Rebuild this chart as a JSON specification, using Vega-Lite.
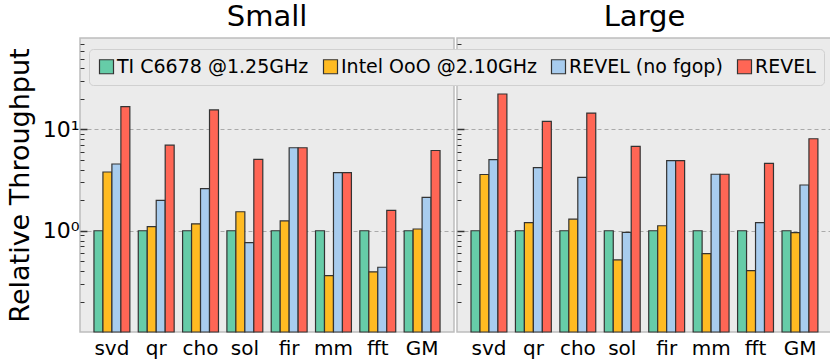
{
  "$schema": "https://vega.github.io/schema/vega-lite/v6.json",
  "padding": {"left": 5, "top": 2, "right": 0, "bottom": 0},
  "spacing": 0,
  "datasets": {
    "d": [
      {"size": "Small", "bench": "svd", "s": "TI C6678 @1.25GHz", "v": 1},
      {"size": "Small", "bench": "svd", "s": "Intel OoO @2.10GHz", "v": 3.8},
      {"size": "Small", "bench": "svd", "s": "REVEL (no fgop)", "v": 4.56},
      {"size": "Small", "bench": "svd", "s": "REVEL", "v": 16.8},
      {"size": "Small", "bench": "qr", "s": "TI C6678 @1.25GHz", "v": 1},
      {"size": "Small", "bench": "qr", "s": "Intel OoO @2.10GHz", "v": 1.10},
      {"size": "Small", "bench": "qr", "s": "REVEL (no fgop)", "v": 1.99},
      {"size": "Small", "bench": "qr", "s": "REVEL", "v": 7.0},
      {"size": "Small", "bench": "cho", "s": "TI C6678 @1.25GHz", "v": 1},
      {"size": "Small", "bench": "cho", "s": "Intel OoO @2.10GHz", "v": 1.17},
      {"size": "Small", "bench": "cho", "s": "REVEL (no fgop)", "v": 2.61},
      {"size": "Small", "bench": "cho", "s": "REVEL", "v": 15.6},
      {"size": "Small", "bench": "sol", "s": "TI C6678 @1.25GHz", "v": 1},
      {"size": "Small", "bench": "sol", "s": "Intel OoO @2.10GHz", "v": 1.54},
      {"size": "Small", "bench": "sol", "s": "REVEL (no fgop)", "v": 0.762},
      {"size": "Small", "bench": "sol", "s": "REVEL", "v": 5.07},
      {"size": "Small", "bench": "fir", "s": "TI C6678 @1.25GHz", "v": 1},
      {"size": "Small", "bench": "fir", "s": "Intel OoO @2.10GHz", "v": 1.25},
      {"size": "Small", "bench": "fir", "s": "REVEL (no fgop)", "v": 6.6},
      {"size": "Small", "bench": "fir", "s": "REVEL", "v": 6.6},
      {"size": "Small", "bench": "mm", "s": "TI C6678 @1.25GHz", "v": 1},
      {"size": "Small", "bench": "mm", "s": "Intel OoO @2.10GHz", "v": 0.361},
      {"size": "Small", "bench": "mm", "s": "REVEL (no fgop)", "v": 3.75},
      {"size": "Small", "bench": "mm", "s": "REVEL", "v": 3.75},
      {"size": "Small", "bench": "fft", "s": "TI C6678 @1.25GHz", "v": 1},
      {"size": "Small", "bench": "fft", "s": "Intel OoO @2.10GHz", "v": 0.393},
      {"size": "Small", "bench": "fft", "s": "REVEL (no fgop)", "v": 0.436},
      {"size": "Small", "bench": "fft", "s": "REVEL", "v": 1.59},
      {"size": "Small", "bench": "GM", "s": "TI C6678 @1.25GHz", "v": 1},
      {"size": "Small", "bench": "GM", "s": "Intel OoO @2.10GHz", "v": 1.04},
      {"size": "Small", "bench": "GM", "s": "REVEL (no fgop)", "v": 2.13},
      {"size": "Small", "bench": "GM", "s": "REVEL", "v": 6.2},
      {"size": "Large", "bench": "svd", "s": "TI C6678 @1.25GHz", "v": 1},
      {"size": "Large", "bench": "svd", "s": "Intel OoO @2.10GHz", "v": 3.59},
      {"size": "Large", "bench": "svd", "s": "REVEL (no fgop)", "v": 5.04},
      {"size": "Large", "bench": "svd", "s": "REVEL", "v": 22.4},
      {"size": "Large", "bench": "qr", "s": "TI C6678 @1.25GHz", "v": 1},
      {"size": "Large", "bench": "qr", "s": "Intel OoO @2.10GHz", "v": 1.20},
      {"size": "Large", "bench": "qr", "s": "REVEL (no fgop)", "v": 4.2},
      {"size": "Large", "bench": "qr", "s": "REVEL", "v": 12.0},
      {"size": "Large", "bench": "cho", "s": "TI C6678 @1.25GHz", "v": 1},
      {"size": "Large", "bench": "cho", "s": "Intel OoO @2.10GHz", "v": 1.30},
      {"size": "Large", "bench": "cho", "s": "REVEL (no fgop)", "v": 3.37},
      {"size": "Large", "bench": "cho", "s": "REVEL", "v": 14.5},
      {"size": "Large", "bench": "sol", "s": "TI C6678 @1.25GHz", "v": 1},
      {"size": "Large", "bench": "sol", "s": "Intel OoO @2.10GHz", "v": 0.515},
      {"size": "Large", "bench": "sol", "s": "REVEL (no fgop)", "v": 0.964},
      {"size": "Large", "bench": "sol", "s": "REVEL", "v": 6.8},
      {"size": "Large", "bench": "fir", "s": "TI C6678 @1.25GHz", "v": 1},
      {"size": "Large", "bench": "fir", "s": "Intel OoO @2.10GHz", "v": 1.12},
      {"size": "Large", "bench": "fir", "s": "REVEL (no fgop)", "v": 4.92},
      {"size": "Large", "bench": "fir", "s": "REVEL", "v": 4.92},
      {"size": "Large", "bench": "mm", "s": "TI C6678 @1.25GHz", "v": 1},
      {"size": "Large", "bench": "mm", "s": "Intel OoO @2.10GHz", "v": 0.594},
      {"size": "Large", "bench": "mm", "s": "REVEL (no fgop)", "v": 3.61},
      {"size": "Large", "bench": "mm", "s": "REVEL", "v": 3.61},
      {"size": "Large", "bench": "fft", "s": "TI C6678 @1.25GHz", "v": 1},
      {"size": "Large", "bench": "fft", "s": "Intel OoO @2.10GHz", "v": 0.404},
      {"size": "Large", "bench": "fft", "s": "REVEL (no fgop)", "v": 1.2},
      {"size": "Large", "bench": "fft", "s": "REVEL", "v": 4.63},
      {"size": "Large", "bench": "GM", "s": "TI C6678 @1.25GHz", "v": 1},
      {"size": "Large", "bench": "GM", "s": "Intel OoO @2.10GHz", "v": 0.956},
      {"size": "Large", "bench": "GM", "s": "REVEL (no fgop)", "v": 2.83},
      {"size": "Large", "bench": "GM", "s": "REVEL", "v": 8.1}
    ]
  },
  "config": {
    "font": "DejaVu Sans",
    "background": "white",
    "view": {"fill": "#EBEBEB", "stroke": "#BDBDBD", "strokeWidth": 1.5},
    "title": {"font": "DejaVu Sans", "fontSize": 29, "fontWeight": "normal", "color": "black", "offset": 6},
    "axis": {"labelFont": "DejaVu Sans", "titleFont": "DejaVu Sans", "labelColor": "black", "titleColor": "black", "titleFontWeight": "normal"}
  },
  "hconcat": [
    {
      "title": {"text": "Small"},
      "width": 374,
      "height": 294,
      "data": {"name": "d"},
      "transform": [{"filter": "datum.size == 'Small'"}],
      "mark": {"type": "bar", "stroke": "#333333", "strokeWidth": 1.2},
      "encoding": {
        "x": {"field": "bench", "type": "nominal", "sort": ["svd", "qr", "cho", "sol", "fir", "mm", "fft", "GM"],
              "scale": {"paddingInner": 0.19, "paddingOuter": 0.315},
              "axis": {"title": null, "labelAngle": 0, "labelFontSize": 20, "ticks": false, "domain": false, "labelPadding": 6}},
        "xOffset": {"field": "s", "type": "nominal", "sort": ["TI C6678 @1.25GHz", "Intel OoO @2.10GHz", "REVEL (no fgop)", "REVEL"], "scale": {"paddingInner": 0, "paddingOuter": 0}},
        "y": {"field": "v", "type": "quantitative",
              "scale": {"type": "log", "domain": [0.1, 80], "nice": false},
              "axis": {"title": "Relative Throughput", "titleFontSize": 27, "titlePadding": 8,
                       "values": [0.2, 0.3, 0.4, 0.5, 0.6, 0.7, 0.8, 0.9, 1, 2, 3, 4, 5, 6, 7, 8, 9, 10, 20, 30, 40, 50, 60, 70],
                       "labelExpr": "datum.value == 1 ? '10⁰' : datum.value == 10 ? '10¹' : ''",
                       "labelFontSize": 22, "labelPadding": 8, "domain": false,
                       "tickColor": "#333333",
                       "tickSize": {"condition": {"test": "datum.value == 1 || datum.value == 10", "value": -7}, "value": -4},
                       "tickWidth": {"condition": {"test": "datum.value == 1 || datum.value == 10", "value": 1.5}, "value": 1},
                       "grid": true, "gridColor": "#AAAAAA", "gridDash": [4, 3], "gridWidth": 1,
                       "gridOpacity": {"condition": {"test": "datum.value == 1 || datum.value == 10", "value": 1}, "value": 0}}},
        "y2": {"datum": 0.1},
        "color": {"field": "s", "type": "nominal", "sort": ["TI C6678 @1.25GHz", "Intel OoO @2.10GHz", "REVEL (no fgop)", "REVEL"],
                  "scale": {"domain": ["TI C6678 @1.25GHz", "Intel OoO @2.10GHz", "REVEL (no fgop)", "REVEL"], "range": ["#66CCA8", "#FFBB22", "#A8CCEE", "#FF6655"]},
                  "legend": {"title": null, "orient": "none", "direction": "horizontal", "legendX": 9, "legendY": 11,
                             "symbolType": "square", "symbolSize": 196, "symbolStrokeColor": "#333333", "symbolStrokeWidth": 1.2,
                             "labelFontSize": 19, "labelLimit": 400, "labelOffset": 1, "columnPadding": 12, "labelColor": "black", "labelFont": "DejaVu Sans",
                             "fillColor": "#EBEBEB", "strokeColor": "#D0D0D0", "cornerRadius": 4, "padding": 8}}
      }
    },
    {
      "title": {"text": "Large"},
      "width": 375,
      "height": 294,
      "data": {"name": "d"},
      "transform": [{"filter": "datum.size == 'Large'"}],
      "mark": {"type": "bar", "stroke": "#333333", "strokeWidth": 1.2},
      "encoding": {
        "x": {"field": "bench", "type": "nominal", "sort": ["svd", "qr", "cho", "sol", "fir", "mm", "fft", "GM"],
              "scale": {"paddingInner": 0.19, "paddingOuter": 0.315},
              "axis": {"title": null, "labelAngle": 0, "labelFontSize": 20, "ticks": false, "domain": false, "labelPadding": 6}},
        "xOffset": {"field": "s", "type": "nominal", "sort": ["TI C6678 @1.25GHz", "Intel OoO @2.10GHz", "REVEL (no fgop)", "REVEL"], "scale": {"paddingInner": 0, "paddingOuter": 0}},
        "y": {"field": "v", "type": "quantitative",
              "scale": {"type": "log", "domain": [0.1, 80], "nice": false},
              "axis": {"title": null, "labels": false,
                       "values": [0.2, 0.3, 0.4, 0.5, 0.6, 0.7, 0.8, 0.9, 1, 2, 3, 4, 5, 6, 7, 8, 9, 10, 20, 30, 40, 50, 60, 70],
                       "domain": false, "tickColor": "#333333",
                       "tickSize": {"condition": {"test": "datum.value == 1 || datum.value == 10", "value": -7}, "value": -4},
                       "tickWidth": {"condition": {"test": "datum.value == 1 || datum.value == 10", "value": 1.5}, "value": 1},
                       "grid": true, "gridColor": "#AAAAAA", "gridDash": [4, 3], "gridWidth": 1,
                       "gridOpacity": {"condition": {"test": "datum.value == 1 || datum.value == 10", "value": 1}, "value": 0}}},
        "y2": {"datum": 0.1},
        "color": {"field": "s", "type": "nominal", "sort": ["TI C6678 @1.25GHz", "Intel OoO @2.10GHz", "REVEL (no fgop)", "REVEL"],
                  "scale": {"domain": ["TI C6678 @1.25GHz", "Intel OoO @2.10GHz", "REVEL (no fgop)", "REVEL"], "range": ["#66CCA8", "#FFBB22", "#A8CCEE", "#FF6655"]},
                  "legend": null}
      }
    }
  ]
}
